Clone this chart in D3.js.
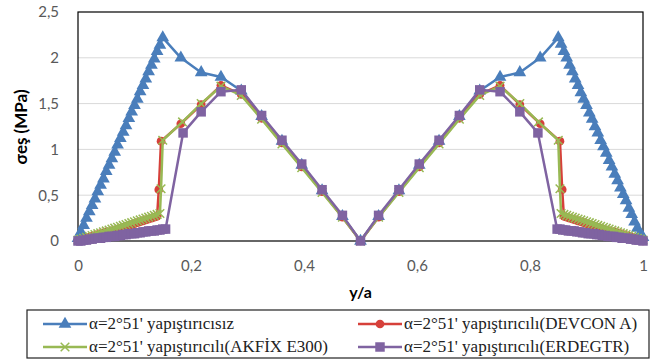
<!DOCTYPE html>
<html>
<head>
<meta charset="utf-8">
<script src="https://cdn.jsdelivr.net/npm/d3@7"></script>
<style>
  body { margin: 0; background: #fff; }
  svg { display: block; }
</style>
</head>
<body>
<div id="chart"></div>
<script>
// Data -----------------------------------------------------------------------------------------------------------
const yTicks = [0, 0.5, 1, 1.5, 2, 2.5];
const xTicks = [0, 0.2, 0.4, 0.6, 0.8, 1];

const seriesNames = [
  "α=2°51' yapıştırıcısız",
  "α=2°51' yapıştırıcılı(DEVCON A)",
  "α=2°51' yapıştırıcılı(AKFİX E300)",
  "α=2°51' yapıştırıcılı(ERDEGTR)"
];

const blueData = [
  [0, 0.03], [0.005, 0.1], [0.01, 0.17], [0.015, 0.25], [0.02, 0.32], [0.025, 0.39], [0.03, 0.46], [0.035, 0.54],
  [0.04, 0.61], [0.045, 0.68], [0.05, 0.76], [0.055, 0.83], [0.06, 0.9], [0.065, 0.97], [0.07, 1.05], [0.075, 1.12],
  [0.08, 1.19], [0.085, 1.26], [0.09, 1.34], [0.095, 1.41], [0.1, 1.48], [0.105, 1.55], [0.11, 1.63], [0.115, 1.7],
  [0.12, 1.77], [0.125, 1.85], [0.13, 1.92], [0.135, 1.99], [0.14, 2.07], [0.145, 2.14], [0.15, 2.22],
  [0.182, 2.0], [0.218, 1.84], [0.253, 1.79], [0.289, 1.64], [0.325, 1.36], [0.361, 1.09], [0.396, 0.83],
  [0.432, 0.55], [0.468, 0.27], [0.5, 0], [0.532, 0.27], [0.568, 0.55], [0.604, 0.83], [0.639, 1.09],
  [0.675, 1.36], [0.711, 1.64], [0.747, 1.79], [0.782, 1.84], [0.818, 2.0],
  [0.85, 2.22], [0.855, 2.15], [0.86, 2.07], [0.865, 2.0], [0.87, 1.92], [0.875, 1.85], [0.88, 1.77], [0.885, 1.7],
  [0.89, 1.62], [0.895, 1.55], [0.9, 1.48], [0.905, 1.4], [0.91, 1.33], [0.915, 1.25], [0.92, 1.18], [0.925, 1.1],
  [0.93, 1.03], [0.935, 0.96], [0.94, 0.88], [0.945, 0.81], [0.95, 0.73], [0.955, 0.66], [0.96, 0.58],
  [0.965, 0.51], [0.97, 0.44], [0.975, 0.36], [0.98, 0.29], [0.985, 0.21], [0.99, 0.14], [0.995, 0.08], [1, 0.04]
];

const redData = [
  [0, 0], [0.005, 0.01], [0.01, 0.02], [0.015, 0.03], [0.02, 0.04], [0.025, 0.05], [0.03, 0.06], [0.035, 0.07],
  [0.04, 0.08], [0.045, 0.09], [0.05, 0.1], [0.055, 0.1], [0.06, 0.11], [0.065, 0.12], [0.07, 0.13], [0.075, 0.14],
  [0.08, 0.15], [0.085, 0.16], [0.09, 0.17], [0.095, 0.18], [0.1, 0.19], [0.105, 0.2], [0.11, 0.21], [0.115, 0.22],
  [0.12, 0.23], [0.125, 0.24], [0.13, 0.25], [0.135, 0.26], [0.14, 0.27],
  [0.143, 0.56], [0.147, 1.09], [0.182, 1.28], [0.218, 1.49], [0.253, 1.7], [0.289, 1.6], [0.325, 1.34],
  [0.361, 1.07], [0.396, 0.81], [0.432, 0.54], [0.468, 0.26], [0.5, 0], [0.532, 0.26], [0.568, 0.54],
  [0.604, 0.81], [0.639, 1.07], [0.675, 1.34], [0.711, 1.6], [0.747, 1.7], [0.782, 1.49], [0.818, 1.28],
  [0.853, 1.09], [0.857, 0.56], [0.86, 0.27],
  [0.865, 0.26], [0.87, 0.25], [0.875, 0.24], [0.88, 0.23], [0.885, 0.22], [0.89, 0.21], [0.895, 0.2], [0.9, 0.19],
  [0.905, 0.18], [0.91, 0.17], [0.915, 0.16], [0.92, 0.15], [0.925, 0.14], [0.93, 0.13], [0.935, 0.12],
  [0.94, 0.11], [0.945, 0.1], [0.95, 0.1], [0.955, 0.09], [0.96, 0.08], [0.965, 0.07], [0.97, 0.06], [0.975, 0.05],
  [0.98, 0.04], [0.985, 0.03], [0.99, 0.02], [0.995, 0.01], [1, 0]
];

const greenData = [
  [0, 0.01], [0.005, 0.02], [0.01, 0.03], [0.015, 0.04], [0.02, 0.05], [0.025, 0.06], [0.03, 0.07], [0.035, 0.08],
  [0.04, 0.09], [0.045, 0.1], [0.05, 0.11], [0.055, 0.12], [0.06, 0.13], [0.065, 0.14], [0.07, 0.15], [0.075, 0.16],
  [0.08, 0.17], [0.085, 0.18], [0.09, 0.19], [0.095, 0.2], [0.1, 0.21], [0.105, 0.22], [0.11, 0.23], [0.115, 0.24],
  [0.12, 0.25], [0.125, 0.26], [0.13, 0.27], [0.135, 0.28], [0.14, 0.29], [0.145, 0.3],
  [0.147, 0.57], [0.15, 1.1], [0.185, 1.3], [0.218, 1.5], [0.253, 1.69], [0.289, 1.59], [0.325, 1.33],
  [0.361, 1.06], [0.396, 0.8], [0.432, 0.53], [0.468, 0.26], [0.5, 0], [0.532, 0.26], [0.568, 0.53],
  [0.604, 0.8], [0.639, 1.06], [0.675, 1.33], [0.711, 1.59], [0.747, 1.69], [0.782, 1.5], [0.815, 1.3],
  [0.85, 1.1], [0.853, 0.57], [0.855, 0.3],
  [0.86, 0.29], [0.865, 0.28], [0.87, 0.27], [0.875, 0.26], [0.88, 0.25], [0.885, 0.24], [0.89, 0.23],
  [0.895, 0.22], [0.9, 0.21], [0.905, 0.2], [0.91, 0.19], [0.915, 0.18], [0.92, 0.17], [0.925, 0.16], [0.93, 0.15],
  [0.935, 0.14], [0.94, 0.13], [0.945, 0.12], [0.95, 0.11], [0.955, 0.1], [0.96, 0.09], [0.965, 0.08],
  [0.97, 0.07], [0.975, 0.06], [0.98, 0.05], [0.985, 0.04], [0.99, 0.03], [0.995, 0.02], [1, 0.01]
];

const purpleData = [
  [0, 0], [0.005, 0], [0.01, 0.01], [0.015, 0.01], [0.02, 0.02], [0.025, 0.02], [0.03, 0.03], [0.035, 0.03],
  [0.04, 0.03], [0.045, 0.04], [0.05, 0.04], [0.055, 0.05], [0.06, 0.05], [0.065, 0.05], [0.07, 0.06], [0.075, 0.06],
  [0.08, 0.07], [0.085, 0.07], [0.09, 0.08], [0.095, 0.08], [0.1, 0.08], [0.105, 0.09], [0.11, 0.09], [0.115, 0.1],
  [0.12, 0.1], [0.125, 0.11], [0.13, 0.11], [0.135, 0.11], [0.14, 0.12], [0.145, 0.12], [0.15, 0.13], [0.155, 0.13],
  [0.186, 1.18], [0.218, 1.41], [0.253, 1.63], [0.289, 1.65], [0.325, 1.37], [0.361, 1.1], [0.396, 0.84],
  [0.432, 0.56], [0.468, 0.28], [0.5, 0], [0.532, 0.28], [0.568, 0.56], [0.604, 0.84], [0.639, 1.1],
  [0.675, 1.37], [0.711, 1.65], [0.747, 1.63], [0.782, 1.41], [0.814, 1.18],
  [0.848, 0.13], [0.853, 0.13], [0.858, 0.12], [0.863, 0.12], [0.868, 0.11], [0.873, 0.11], [0.878, 0.11],
  [0.883, 0.1], [0.888, 0.1], [0.893, 0.09], [0.898, 0.09], [0.903, 0.08], [0.908, 0.08], [0.913, 0.08],
  [0.918, 0.07], [0.923, 0.07], [0.928, 0.06], [0.933, 0.06], [0.938, 0.05], [0.943, 0.05], [0.948, 0.05],
  [0.953, 0.04], [0.958, 0.04], [0.963, 0.03], [0.968, 0.03], [0.973, 0.03], [0.978, 0.02], [0.983, 0.02],
  [0.988, 0.01], [0.993, 0.01], [1, 0]
];

// Canvas -------------------------------------------------------------------------------------------------------------
const canvasWidth = 651;
const canvasHeight = 364;

const plotLeft = 78;
const plotRight = 643;
const plotTop = 12;
const plotBottom = 241;

const svg = d3.select("#chart")
  .append("svg")
  .attr("width", canvasWidth)
  .attr("height", canvasHeight);

const xScale = d3.scaleLinear().domain([0, 1]).range([plotLeft, plotRight]);
const yScale = d3.scaleLinear().domain([0, 2.5]).range([plotBottom, plotTop]);

const commaFormat = d => String(d).replace(".", ",");
const tickFont = "Lato, 'Open Sans', sans-serif";

// Grid lines
svg.append("g")
  .selectAll("line")
  .data(yTicks.filter(d => d > 0 && d < 2.5))
  .join("line")
  .attr("x1", plotLeft)
  .attr("x2", plotRight)
  .attr("y1", d => yScale(d))
  .attr("y2", d => yScale(d))
  .style("stroke", "#d9d9d9")
  .style("stroke-width", 1);

// Plot frame
svg.append("rect")
  .attr("x", plotLeft)
  .attr("y", plotTop)
  .attr("width", plotRight - plotLeft)
  .attr("height", plotBottom - plotTop)
  .style("fill", "none")
  .style("stroke", "#000")
  .style("stroke-width", 1.2);

// Axes
const yAxis = svg.append("g")
  .attr("transform", "translate(" + plotLeft + ",0)")
  .call(d3.axisLeft(yScale).tickValues(yTicks).tickFormat(commaFormat).tickSize(0).tickPadding(19));
yAxis.select(".domain").remove();
yAxis.selectAll("text")
  .style("font-family", tickFont)
  .style("font-size", "15px")
  .style("fill", "#595959");

const xAxis = svg.append("g")
  .attr("transform", "translate(0," + plotBottom + ")")
  .call(d3.axisBottom(xScale).tickValues(xTicks).tickFormat(commaFormat).tickSize(0).tickPadding(19));
xAxis.select(".domain").remove();
xAxis.selectAll("text")
  .style("font-family", tickFont)
  .style("font-size", "15px")
  .style("fill", "#595959");

// Axis titles
svg.append("text")
  .attr("transform", "translate(27," + 127 + ") rotate(-90)")
  .style("text-anchor", "middle")
  .style("font-family", tickFont)
  .style("font-weight", "bold")
  .style("font-size", "17px")
  .text("σeş (MPa)");

svg.append("text")
  .attr("x", (plotLeft + plotRight) / 2)
  .attr("y", 298)
  .style("text-anchor", "middle")
  .style("font-family", tickFont)
  .style("font-weight", "bold")
  .style("font-size", "16px")
  .text("y/a");

// Series -------------------------------------------------------------------------------------------------------------
const series = [
  { data: blueData, color: "#4a7ebb", marker: d3.symbolTriangle, size: 70 },
  { data: redData, color: "#d6403a", marker: d3.symbolCircle, size: 60 },
  { data: greenData, color: "#98b954", marker: d3.symbolX, size: 50 },
  { data: purpleData, color: "#7f63a1", marker: d3.symbolSquare, size: 90 }
];

const line = d3.line()
  .x(d => xScale(d[0]))
  .y(d => yScale(d[1]));

series.forEach(function(s) {
  const g = svg.append("g");
  g.append("path")
    .datum(s.data)
    .attr("d", line)
    .style("fill", "none")
    .style("stroke", s.color)
    .style("stroke-width", 2.5)
    .style("stroke-linejoin", "round");
  g.selectAll("path.marker")
    .data(s.data)
    .join("path")
    .attr("class", "marker")
    .attr("transform", d => "translate(" + xScale(d[0]) + "," + yScale(d[1]) + ")")
    .attr("d", d3.symbol().type(s.marker).size(s.size))
    .style("fill", s.marker === d3.symbolX ? "none" : s.color)
    .style("stroke", s.color)
    .style("stroke-width", s.marker === d3.symbolX ? 1.5 : 0);
});

// Legend -------------------------------------------------------------------------------------------------------------
svg.append("rect")
  .attr("x", 27)
  .attr("y", 310)
  .attr("width", 622)
  .attr("height", 48)
  .style("fill", "#fff")
  .style("stroke", "#222")
  .style("stroke-width", 1.2);

const legendItems = [
  { x: 43, y: 324, s: series[0], name: seriesNames[0] },
  { x: 358, y: 324, s: series[1], name: seriesNames[1] },
  { x: 43, y: 347, s: series[2], name: seriesNames[2] },
  { x: 358, y: 347, s: series[3], name: seriesNames[3] }
];

const legend = svg.append("g")
  .selectAll("g")
  .data(legendItems)
  .join("g")
  .attr("transform", d => "translate(" + d.x + "," + d.y + ")");

legend.append("line")
  .attr("x1", 0)
  .attr("x2", 44)
  .style("stroke", d => d.s.color)
  .style("stroke-width", 2.5);

legend.append("path")
  .attr("transform", "translate(22,0)")
  .attr("d", d => d3.symbol().type(d.s.marker).size(d.s.size)())
  .style("fill", d => d.s.marker === d3.symbolX ? "none" : d.s.color)
  .style("stroke", d => d.s.color)
  .style("stroke-width", d => d.s.marker === d3.symbolX ? 1.5 : 0);

legend.append("text")
  .attr("x", 46)
  .attr("y", 5)
  .attr("font-family", "Liberation Serif, DejaVu Serif, serif")
  .attr("font-size", 17)
  .attr("fill", "#222")
  .text(d => d.name);
</script>
</body>
</html>
